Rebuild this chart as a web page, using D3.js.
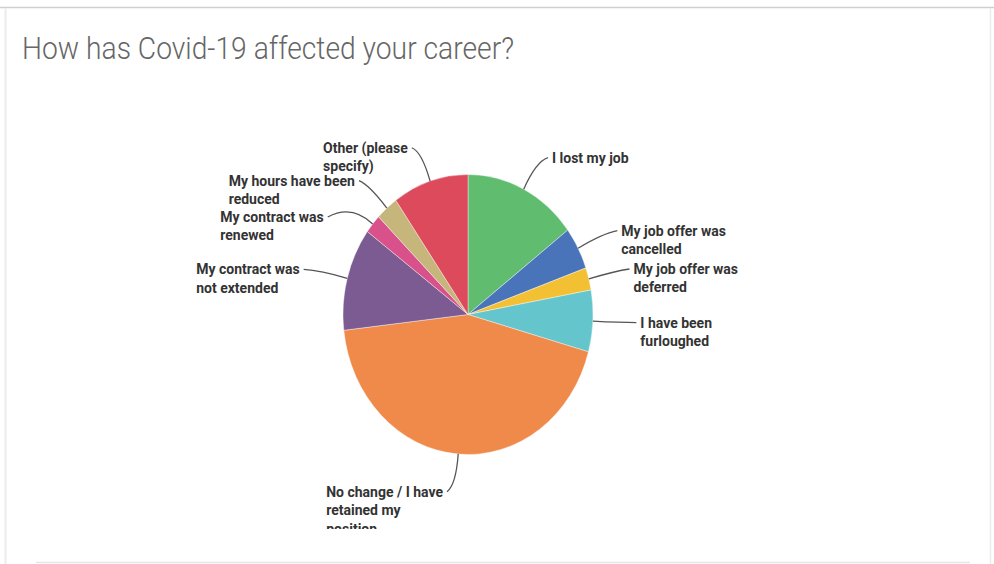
<!DOCTYPE html>
<html>
<head>
<meta charset="utf-8">
<script src="https://cdn.jsdelivr.net/npm/d3@7"></script>
<style>
  html, body { margin: 0; padding: 0; background: #fff; }
  svg { display: block; }
</style>
</head>
<body>
<svg id="chart" width="994" height="564"></svg>
<script>
// ---- data ----
const title = "How has Covid-19 affected your career?";
const categories = [
  "I lost my job",
  "My job offer was cancelled",
  "My job offer was deferred",
  "I have been furloughed",
  "No change / I have retained my position",
  "My contract was not extended",
  "My contract was renewed",
  "My hours have been reduced",
  "Other (please specify)"
];
const values = [14.7, 4.9, 2.6, 7.1, 43.9, 11.9, 2.2, 2.9, 9.8];
const labelLines = [
  ["I lost my job"],
  ["My job offer was", "cancelled"],
  ["My job offer was", "deferred"],
  ["I have been", "furloughed"],
  ["No change / I have", "retained my", "position"],
  ["My contract was", "not extended"],
  ["My contract was", "renewed"],
  ["My hours have been", "reduced"],
  ["Other (please", "specify)"]
];
const colors = ["#60bd6f", "#4a74ba", "#f4c033", "#64c6cc", "#ef8a4b", "#7b5b92", "#d9518b", "#c6b67b", "#dc4a5b"];

// ---- layout ----
const cx = 468, cy = 314.5, R = 125, yStretch = 1.12;
const labelNudge = [[4,-4],[7,-3],[6,-2],[8,0],[-1,7],[-9,-1],[-16,13],[-2,-4],[-2,-4]];

const svg = d3.select("#chart");

// frame
svg.append("line").attr("x1",0).attr("x2",994).attr("y1",7.5).attr("y2",7.5).attr("stroke","#cfcfcf").attr("stroke-width",1.5);
svg.append("line").attr("x1",5.5).attr("x2",5.5).attr("y1",8).attr("y2",564).attr("stroke","#ececec").attr("stroke-width",2);
svg.append("line").attr("x1",990.5).attr("x2",990.5).attr("y1",8).attr("y2",564).attr("stroke","#ececec").attr("stroke-width",1.5);
svg.append("line").attr("x1",36).attr("x2",970).attr("y1",562.5).attr("y2",562.5).attr("stroke","#e6e6e6").attr("stroke-width",1.5);

// title
svg.append("text")
  .attr("x", 22).attr("y", 59)
  .attr("font-family", "'Roboto', sans-serif")
  .attr("font-weight", 300)
  .attr("font-size", 31)
  .attr("fill", "#666")
  .attr("textLength", 492)
  .attr("lengthAdjust", "spacingAndGlyphs")
  .text(title);

// clip
const defs = svg.append("defs");
defs.append("clipPath").attr("id","clip").append("rect").attr("x",0).attr("y",80).attr("width",994).attr("height",449);
const g = svg.append("g").attr("clip-path","url(#clip)");

const pie = d3.pie().sort(null).value(d => d);
const arcs = pie(values);
const arc = d3.arc().innerRadius(0).outerRadius(R);

const pieG = g.append("g").attr("transform", `translate(${cx},${cy}) scale(1,${yStretch})`);
pieG.selectAll("path").data(arcs).join("path")
  .attr("d", arc)
  .attr("fill", (d,i) => colors[i])
  .attr("stroke", "#ffffff")
  .attr("stroke-width", 0.4)
  .attr("vector-effect", "non-scaling-stroke");

function pt(angle, r) {
  return [cx + r * Math.sin(angle), cy - r * Math.cos(angle) * yStretch];
}

const labelG = g.append("g");
arcs.forEach((d, i) => {
  const mid = (d.startAngle + d.endAngle) / 2;
  const edge = pt(mid, R);
  const ctrl = pt(mid, R * 1.22);
  const side = ctrl[0] >= cx ? 1 : -1;
  const end = [ctrl[0] + side * 8 + labelNudge[i][0], ctrl[1] + labelNudge[i][1]];
  labelG.append("path")
    .attr("d", `M${edge[0]},${edge[1]} Q${ctrl[0]},${ctrl[1]} ${end[0]},${end[1]}`)
    .attr("fill", "none")
    .attr("stroke", "#555")
    .attr("stroke-width", 1.3);
  const t = labelG.append("text")
    .attr("font-family", "Roboto, 'Open Sans', sans-serif")
    .attr("font-weight", "bold")
    .attr("font-size", 14)
    .attr("fill", "#333");
  labelLines[i].forEach((line, k) => {
    t.append("tspan").attr("x", 0).attr("y", end[1] + 5 + k * 18.5).text(line);
  });
  if (side > 0) {
    t.attr("transform", `translate(${end[0] + 4},0)`);
  } else {
    const first = t.select("tspan").node().getComputedTextLength();
    t.attr("transform", `translate(${end[0] - 4 - first},0)`);
  }
});
</script>
</body>
</html>
